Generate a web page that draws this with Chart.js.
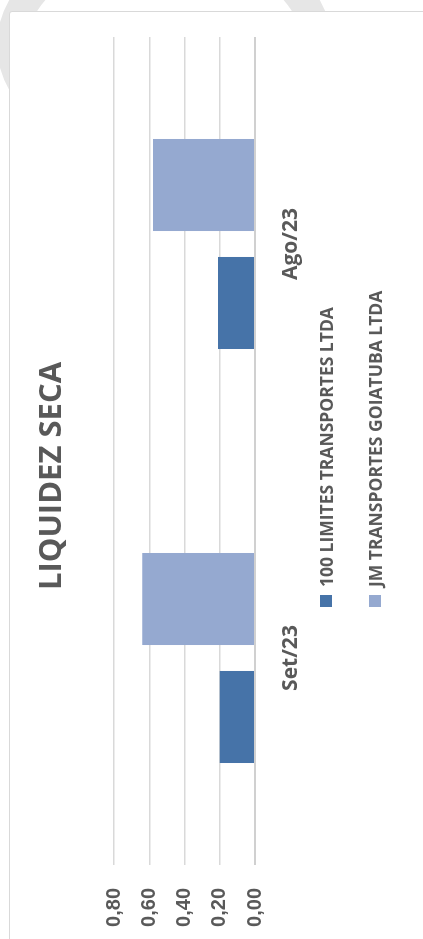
<!DOCTYPE html>
<html>
<head>
<meta charset="utf-8">
<script src="https://cdn.jsdelivr.net/npm/chart.js@4"></script>
<style>
  html, body { margin: 0; padding: 0; background: #fff; }
  body { width: 423px; height: 939px; position: relative; overflow: hidden; }
  /* faint watermark ring behind the frame */
  #ring { position: absolute; left: -3px; top: -75px; width: 335px; height: 240px; border-radius: 50%;
          border: 30px solid #e6e6e6; box-sizing: border-box; }
  #frame { position: absolute; left: 9px; top: 11px; width: 440px; height: 950px; background: #fff;
           border: 1.5px solid #d9d9d9; border-radius: 3px; }
  #rot { position: absolute; left: 0; top: 0; width: 939px; height: 423px;
         transform-origin: 0 0; transform: translate(0, 939px) rotate(-90deg); }
  #chart { position: absolute; left: 0; top: 0; }
  .item { position: absolute; left: 332px; height: 24px; display: flex; align-items: center;
          font: bold 17.5px 'Open Sans'; color: #595959; white-space: nowrap; }
  .item span.box { width: 12px; height: 12px; margin-right: 8px; display: inline-block; }
</style>
</head>
<body>
<div id="ring"></div>
<div id="frame"></div>
<div id="rot">
  <canvas id="chart" width="939" height="423"></canvas>
</div>
<script>
const categories = ['Set/23', 'Ago/23'];
const limites = [0.20, 0.21];
const jm = [0.64, 0.58];
const yTicks = [0, 0.2, 0.4, 0.6, 0.8];

const grey = '#595959';

const chart = new Chart(document.getElementById('chart'), {
  type: 'bar',
  data: {
    labels: categories,
    datasets: [
      { label: '100 LIMITES TRANSPORTES LTDA', data: limites, backgroundColor: '#4673a8' },
      { label: 'JM TRANSPORTES GOIATUBA LTDA', data: jm, backgroundColor: '#95a9d0' }
    ]
  },
  options: {
    responsive: false,
    animation: false,
    layout: { padding: { left: 0, right: 13, top: 0, bottom: 0 } },
    datasets: { bar: { barPercentage: 0.78, categoryPercentage: 0.57 } },
    plugins: {
      legend: { display: false },
      tooltip: { enabled: false },
      title: {
        display: true, text: 'LIQUIDEZ SECA', color: grey,
        font: { family: 'Open Sans', size: 31, weight: 'bold' },
        padding: { top: 34, bottom: 43 }
      }
    },
    scales: {
      x: {
        grid: { display: false },
        border: { display: false },
        ticks: { color: grey, padding: 15, font: { family: 'Open Sans', size: 21, weight: 'bold' } },
        afterFit: s => { s.height = 168; }
      },
      y: {
        min: 0, max: 0.8,
        afterBuildTicks: s => { s.ticks = yTicks.map(v => ({ value: v })); },
        grid: {
          drawTicks: false,
          color: c => c.tick && c.tick.value === 0 ? '#d0d0d0' : '#d9d9d9',
          lineWidth: c => c.tick && c.tick.value === 0 ? 2 : 1.5
        },
        border: { display: false },
        ticks: {
          color: grey, padding: 23,
          font: { family: 'Liberation Sans', size: 20, weight: 'bold' },
          callback: v => v.toFixed(2).replace('.', ',')
        },
        afterFit: s => { s.width = 74; }
      },
      // empty spacer on the right so the title sits where the original has it
      spacer: {
        type: 'linear', position: 'right',
        grid: { display: false }, border: { display: false }, ticks: { display: false },
        afterFit: s => { s.width = 24; }
      }
    }
  }
});

// legend, stacked like the original
const rot = document.getElementById('rot');
const rowsY = [326, 375];
chart.data.datasets.forEach((ds, i) => {
  const el = document.createElement('div');
  el.className = 'item';
  el.style.top = (rowsY[i] - 12) + 'px';
  const box = document.createElement('span');
  box.className = 'box';
  box.style.background = ds.backgroundColor;
  el.appendChild(box);
  el.appendChild(document.createTextNode(ds.label));
  rot.appendChild(el);
});
</script>
</body>
</html>
